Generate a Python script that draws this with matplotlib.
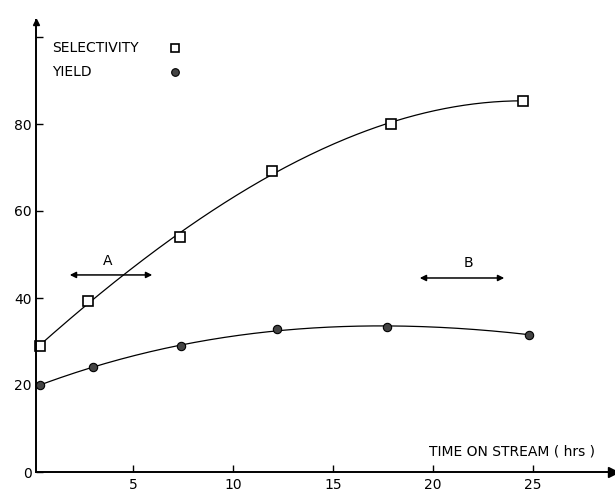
import numpy as np
import matplotlib
matplotlib.use('Agg')
import matplotlib.pyplot as plt

#====== data
time_sel = [0.35, 2.75, 7.35, 11.95, 17.9, 24.5]   # hrs
selectivity = [29.0, 39.3, 54.0, 69.3, 80.0, 85.4]
time_yld = [0.35, 3.0, 7.4, 12.2, 17.7, 24.8]
yld = [20.0, 24.2, 28.9, 32.8, 33.4, 31.6]

xticks = [5, 10, 15, 20, 25]
yticks = [0, 20, 40, 60, 80]

#====== figure
fig = plt.figure(figsize=(6.15, 4.95), dpi=100)
# x -> 33 + 20*x px, y -> 472 - 4.35*y px
ax = fig.add_axes([31/615, (495-476.35)/495, (615-31)/615, (476.35-15.25)/495])
ax.set_xlim(-0.1, 29.1)
ax.set_ylim(-1, 105)

for s in ['top', 'right']:
    ax.spines[s].set_visible(False)
ax.spines['left'].set_position(('data', 0.15))
ax.spines['bottom'].set_position(('data', 0))
ax.spines['left'].set_bounds(0, 104)
ax.spines['bottom'].set_bounds(0.15, 28.9)
for s in ['left', 'bottom']:
    ax.spines[s].set_linewidth(1.4)

# arrow heads on the axes
ax.plot(29.0, 0, marker='>', color='k', ms=7, clip_on=False)
ax.plot(0.15, 103.5, marker='^', color='k', ms=5, clip_on=False)

ax.set_xticks(xticks)
ax.set_yticks(yticks + [100])
ax.set_yticklabels([str(v) for v in yticks] + [''])
ax.tick_params(axis='both', direction='in', length=5, width=1, labelsize=10, pad=3)
ax.tick_params(axis='x', pad=4)

#====== smooth curves (cubic fit through the readings)
xs = np.linspace(0.15, 24.5, 200)
ps = np.polyfit(time_sel, selectivity, 3)
ax.plot(xs, np.polyval(ps, xs), color='k', lw=0.9)
xy = np.linspace(0.15, 24.8, 200)
py = np.polyfit(time_yld, yld, 3)
ax.plot(xy, np.polyval(py, xy), color='k', lw=0.9)

ax.plot(time_sel, selectivity, 's', mfc='white', mec='k', ms=6.5, mew=1.2)
ax.plot(time_yld, yld, 'o', mfc='#444444', mec='k', ms=6, mew=0.8)

#====== legend written as text
ax.text(0.95, 97.5, 'SELECTIVITY', fontsize=10, va='center')
ax.plot(7.1, 97.5, 's', mfc='white', mec='k', ms=5.5, mew=1.2)
ax.text(0.95, 92.0, 'YIELD', fontsize=10, va='center')
ax.plot(7.1, 92.0, 'o', mfc='#444444', mec='k', ms=5.5, mew=0.8)

#====== regions A and B
ax.annotate('', xy=(1.7, 45.3), xytext=(6.1, 45.3),
            arrowprops=dict(arrowstyle='<|-|>', color='k', lw=1.1, mutation_scale=9))
ax.text(3.75, 47.0, 'A', fontsize=10, ha='center', va='bottom')
ax.annotate('', xy=(19.2, 44.6), xytext=(23.7, 44.6),
            arrowprops=dict(arrowstyle='<|-|>', color='k', lw=1.1, mutation_scale=9))
ax.text(21.75, 46.4, 'B', fontsize=10, ha='center', va='bottom')

ax.text(28.1, 3.0, 'TIME ON STREAM ( hrs )', fontsize=10, ha='right', va='bottom')

fig.savefig('out.png', dpi=100)
